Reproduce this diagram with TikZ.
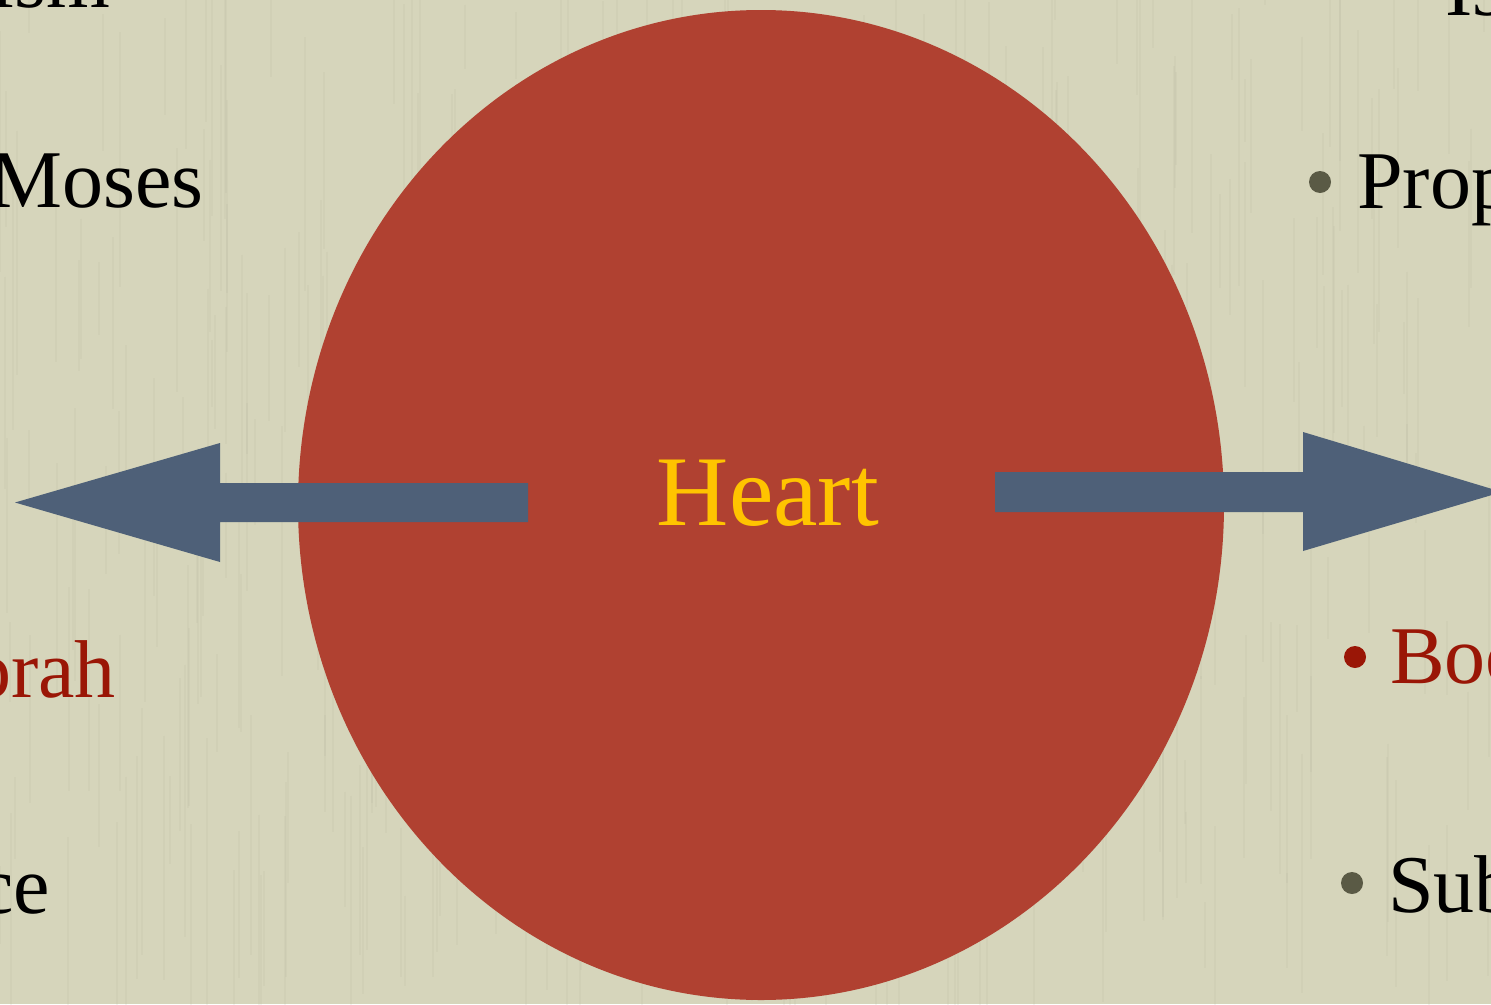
\documentclass[tikz,border=0pt]{standalone}
\usepackage{fontspec}
\setmainfont{Liberation Serif}
\usetikzlibrary{positioning}

\definecolor{paper}{HTML}{D6D5BB}
\definecolor{clay}{HTML}{B04131}
\definecolor{slate}{HTML}{4E6078}
\definecolor{gold}{HTML}{FFC400}
\definecolor{rust}{HTML}{9A1606}
\definecolor{olive}{HTML}{5A5A45}

\tikzset{
  item/.style={inner sep=0pt, font=\fontsize{82}{90}\selectfont},
  dot/.style={circle, fill=olive, minimum size=22pt, inner sep=0pt},
  grain/.style={line width=2pt, draw=paper!82!black, opacity=0.12},
  block/.style={fill=slate},
}

\begin{document}
\begin{tikzpicture}[x=1pt, y=-1pt]
\useasboundingbox (0,0) rectangle (1491,1004);
\clip (0,0) rectangle (1491,1004);
\fill[paper] (0,0) rectangle (1491,1004);
% paper grain
\pgfmathsetseed{7}
\foreach \i in {1,...,420}{
  \pgfmathsetmacro{\gx}{1491*rnd}
  \pgfmathsetmacro{\gy}{1004*rnd-100}
  \pgfmathsetmacro{\gl}{60+220*rnd}
  \draw[grain] (\gx,\gy) -- ++(0,\gl);
}

% the big disc
\fill[clay] (761,505) ellipse [x radius=463pt, y radius=495pt];

% arrows
\fill[block] (528,483) -- (220,483) -- (220,443) -- (15,502.5) -- (220,562) -- (220,522) -- (528,522) -- cycle;
\fill[block] (995,472) -- (1303,472) -- (1303,432) -- (1502,492) -- (1303,551) -- (1303,512) -- (995,512) -- cycle;

% centre word
\node[font=\fontsize{100}{104}\selectfont, text=gold, draw=gold, line width=0.6pt, anchor=base,
      draw opacity=0, inner sep=0pt] (heart) at (768,525) {Heart};

% left column
\node[item, anchor=base east] (judaism) at (110,7) {Judaism};
\node[item, anchor=base east] (moses) at (204,207) {Moses};
\node[item, anchor=base east, text=rust] (torah) at (116,697) {Torah};
\node[item, anchor=base east] (obedience) at (50,913) {Obedience};

% right column
\node[item, anchor=base west] (islam) at (1445,15) {Islam};
\node[dot] (d1) at (1320,182) {};
\node[item, anchor=base west] (prophet) at (1357,208) {Prophet};
\node[dot, fill=rust] (d2) at (1355,657) {};
\node[item, anchor=base west, text=rust] (book) at (1390,683) {Book};
\node[dot] (d3) at (1352,883) {};
\node[item, anchor=base west] (submission) at (1388,912) {Submission};
\end{tikzpicture}
\end{document}
